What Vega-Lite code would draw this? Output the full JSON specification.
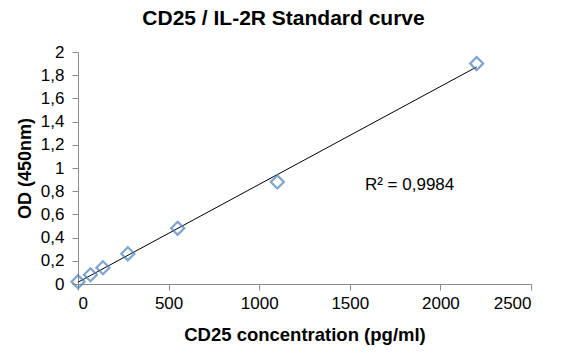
{
  "$schema": "https://vega.github.io/schema/vega-lite/v6.json",
  "width": 453,
  "height": 232,
  "autosize": "none",
  "padding": {"left": 78, "top": 52, "right": 35, "bottom": 79},
  "background": "white",
  "config": {
    "view": {"stroke": null},
    "font": "Liberation Sans",
    "axis": {
      "grid": false,
      "domainColor": "#8c8c8c",
      "tickColor": "#8c8c8c",
      "tickSize": 6,
      "labelFont": "Liberation Sans",
      "labelFontSize": 17,
      "labelColor": "#000000",
      "labelOverlap": false,
      "titleFont": "Liberation Sans",
      "titleFontSize": 18,
      "titleFontWeight": "bold",
      "titleColor": "#000000"
    }
  },
  "title": {
    "text": "CD25 / IL-2R Standard curve",
    "fontSize": 21,
    "fontWeight": "bold",
    "font": "Liberation Sans",
    "color": "#000000",
    "anchor": "middle",
    "offset": 14,
    "dx": -21
  },
  "datasets": {
    "points": [
      {"conc": 0, "od": 0.02},
      {"conc": 68.75, "od": 0.08},
      {"conc": 137.5, "od": 0.14},
      {"conc": 275, "od": 0.26},
      {"conc": 550, "od": 0.48},
      {"conc": 1100, "od": 0.88},
      {"conc": 2200, "od": 1.9}
    ],
    "note": [
      {"conc": 1830, "od": 0.85, "label": "R² = 0,9984"}
    ]
  },
  "encoding": {
    "x": {
      "field": "conc",
      "type": "quantitative",
      "scale": {"domain": [0, 2500], "nice": false, "zero": true},
      "axis": {"values": [0, 500, 1000, 1500, 2000, 2500], "title": "CD25 concentration (pg/ml)", "titleFontSize": 18.5, "labelPadding": 5, "titlePadding": 14, "format": "d", "labelOverlap": false}
    },
    "y": {
      "field": "od",
      "type": "quantitative",
      "scale": {"domain": [0, 2], "nice": false},
      "axis": {"values": [0, 0.2, 0.4, 0.6, 0.8, 1, 1.2, 1.4, 1.6, 1.8, 2], "title": "OD (450nm)", "labelPadding": 8, "titlePadding": 6, "labelOverlap": false, "labelSeparation": 0, "labelExpr": "replace(format(datum.value, '~g'), '.', ',')"}
    }
  },
  "layer": [
    {
      "data": {"name": "points"},
      "transform": [{"regression": "od", "on": "conc", "method": "linear"}],
      "mark": {"type": "line", "color": "#000000", "strokeWidth": 1}
    },
    {
      "data": {"name": "points"},
      "mark": {"type": "point", "shape": "diamond", "filled": false, "color": "#4a7ebb", "strokeWidth": 2.2, "size": 170}
    },
    {
      "data": {"name": "note"},
      "mark": {"type": "text", "fontSize": 17, "font": "Liberation Sans", "color": "#000000", "align": "center", "baseline": "middle"},
      "encoding": {
        "text": {"field": "label"}
      }
    }
  ]
}
